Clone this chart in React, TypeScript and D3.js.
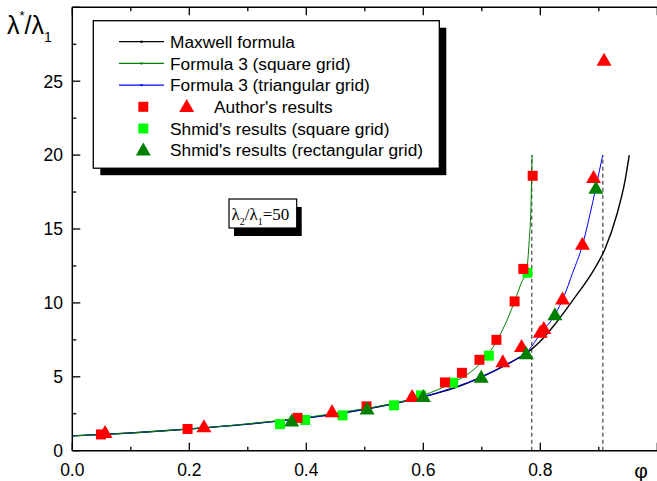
import React from "react";
import * as d3 from "d3";

// curves: [phi, lambda*/lambda1]
const maxwellCurve: [number, number][] = [
  [0, 1.0], [0.1, 1.2], [0.2, 1.47], [0.3, 1.8], [0.4, 2.22], [0.5, 2.8],
  [0.6, 3.65], [0.65, 4.2], [0.7, 5.0], [0.75, 6.0], [0.78, 6.7], [0.8, 7.4],
  [0.822, 8.4], [0.856, 10.2], [0.891, 12.2], [0.91, 13.6], [0.931, 16.0],
  [0.945, 18.3], [0.952, 20],
];
const squareCurve: [number, number][] = [
  [0, 1.0], [0.1, 1.2], [0.2, 1.47], [0.3, 1.82], [0.4, 2.25], [0.5, 2.85],
  [0.55, 3.2], [0.6, 3.75], [0.65, 4.6], [0.68, 5.3], [0.7, 6.0], [0.725, 7.4],
  [0.745, 9.0], [0.756, 10.1], [0.767, 11.3], [0.777, 12.3], [0.781, 14.2],
  [0.784, 16.5], [0.786, 20],
];
const triangCurve: [number, number][] = [
  [0, 1.0], [0.1, 1.2], [0.2, 1.47], [0.3, 1.8], [0.4, 2.2], [0.5, 2.8],
  [0.6, 3.65], [0.65, 4.25], [0.7, 5.0], [0.75, 6.0], [0.78, 6.8], [0.8, 7.9],
  [0.825, 9.2], [0.84, 10.4], [0.855, 12.0], [0.872, 13.9], [0.885, 16.0],
  [0.895, 17.8], [0.9066, 20],
];

// measured points
const authorSquares: [number, number][] = [
  [0.049, 1.1], [0.197, 1.47], [0.385, 2.22], [0.503, 3.0], [0.637, 4.62],
  [0.666, 5.27], [0.696, 6.15], [0.725, 7.5], [0.756, 10.1], [0.771, 12.3],
  [0.787, 18.6],
];
const authorTriangles: [number, number][] = [
  [0.056, 1.22], [0.225, 1.6], [0.444, 2.62], [0.581, 3.65], [0.736, 6.0],
  [0.768, 7.03], [0.8, 8.0], [0.806, 8.25], [0.838, 10.24], [0.872, 13.95],
  [0.891, 18.46], [0.909, 26.4],
];
const shmidSquares: [number, number][] = [
  [0.355, 1.8], [0.398, 2.08], [0.462, 2.39], [0.55, 3.07], [0.596, 3.74],
  [0.651, 4.6], [0.712, 6.43], [0.778, 12.04],
];
const shmidTriangles: [number, number][] = [
  [0.375, 2.0], [0.504, 2.8], [0.6, 3.65], [0.699, 4.96], [0.776, 6.55],
  [0.825, 9.18], [0.895, 17.74],
];

const packingLimits = [0.7854, 0.9069];
const xTicks = [0, 0.2, 0.4, 0.6, 0.8, 1.0];
const yTicks = [0, 5, 10, 15, 20, 25, 30];

const legendRows = [
  { label: "Maxwell formula", kind: "line", color: "#000" },
  { label: "Formula 3 (square grid)", kind: "line", color: "#008000" },
  { label: "Formula 3 (triangular grid)", kind: "line", color: "#0000ff" },
  { label: "Author's results", kind: "author", color: "#ff0000" },
  { label: "Shmid's results (square grid)", kind: "square", color: "#00ff00" },
  { label: "Shmid's results (rectangular grid)", kind: "triangle", color: "#008000" },
];

const SANS = "'Liberation Sans', Arial, sans-serif";
const SERIF = "'Liberation Serif', 'Times New Roman', serif";

const tri = (cx: number, cy: number, s: number) =>
  `M${cx},${cy - s * 0.62}L${cx + s * 0.6},${cy + s * 0.42}L${cx - s * 0.6},${cy + s * 0.42}Z`;

export default function App() {
  const W = 657;
  const H = 481;
  const x = d3.scaleLinear().domain([0, 1]).range([72.3, 657.3]);
  const y = d3.scaleLinear().domain([0, 30]).range([450.7, 7.3]);

  const line = d3
    .line<[number, number]>()
    .x((d) => x(d[0]))
    .y((d) => y(d[1]))
    .curve(d3.curveMonotoneX);

  const xMinor = d3.range(0.1, 1.0, 0.2);
  const yMinor = d3.range(2.5, 30, 5);
  const sq = 10;

  const legX = 93.3, legY = 20.7, legW = 346, legH = 147.5;
  const rowY = (i: number) => 41.7 + i * 21.7;

  return (
    <svg width={W} height={H} style={{ display: "block", position: "absolute", left: 0, top: 0, background: "#fff" }}>
      {/* dashed packing limits */}
      {packingLimits.map((p) => (
        <line key={p} x1={x(p)} x2={x(p)} y1={y(0)} y2={y(20)} stroke="#444" strokeWidth={1.2} strokeDasharray="4,3" />
      ))}

      {/* curves */}
      <path d={line(maxwellCurve) || ""} fill="none" stroke="#000" strokeWidth={1.4} />
      <path d={line(triangCurve) || ""} fill="none" stroke="#0000ff" strokeWidth={1} />
      <path d={line(squareCurve) || ""} fill="none" stroke="#008000" strokeWidth={1} />

      {/* markers */}
      {shmidSquares.map((d, i) => (
        <rect key={"gs" + i} x={x(d[0]) - sq / 2} y={y(d[1]) - sq / 2} width={sq} height={sq} fill="#00ff00" />
      ))}
      {authorSquares.map((d, i) => (
        <rect key={"rs" + i} x={x(d[0]) - sq / 2} y={y(d[1]) - sq / 2} width={sq} height={sq} fill="#ff0000" />
      ))}
      {authorTriangles.map((d, i) => (
        <path key={"rt" + i} d={tri(x(d[0]), y(d[1]), 12.5)} fill="#ff0000" />
      ))}
      {shmidTriangles.map((d, i) => (
        <path key={"gt" + i} d={tri(x(d[0]), y(d[1]), 12.5)} fill="#008000" />
      ))}

      {/* frame */}
      <line x1={x(0)} x2={x(0)} y1={y(0)} y2={y(30)} stroke="#000" strokeWidth={1.5} />
      <line x1={x(0)} x2={W} y1={y(0)} y2={y(0)} stroke="#000" strokeWidth={1.5} />
      <line x1={x(0)} x2={W} y1={y(30)} y2={y(30)} stroke="#000" strokeWidth={1.5} />

      {/* x ticks */}
      {xTicks.map((t) => (
        <g key={"xt" + t}>
          <line x1={x(t)} x2={x(t)} y1={y(0)} y2={y(0) - 8} stroke="#000" strokeWidth={1.3} />
          <line x1={x(t)} x2={x(t)} y1={y(30)} y2={y(30) + 8} stroke="#000" strokeWidth={1.3} />
          {x(t) < 620 && (
            <text x={x(t)} y={476} textAnchor="middle" fontFamily={SANS} fontSize={17.5}>
              {d3.format(".1f")(t)}
            </text>
          )}
        </g>
      ))}
      {xMinor.map((t) => (
        <g key={"xm" + t}>
          <line x1={x(t)} x2={x(t)} y1={y(0)} y2={y(0) - 4} stroke="#000" strokeWidth={1.3} />
          <line x1={x(t)} x2={x(t)} y1={y(30)} y2={y(30) + 4} stroke="#000" strokeWidth={1.3} />
        </g>
      ))}
      {/* y ticks */}
      {yTicks.map((t) => (
        <g key={"yt" + t}>
          <line x1={x(0)} x2={x(0) + 8} y1={y(t)} y2={y(t)} stroke="#000" strokeWidth={1.3} />
          {t < 30 && (
            <text x={63} y={y(t) + 6.3} textAnchor="end" fontFamily={SANS} fontSize={17.5}>
              {t}
            </text>
          )}
        </g>
      ))}
      {yMinor.map((t) => (
        <line key={"ym" + t} x1={x(0)} x2={x(0) + 4} y1={y(t)} y2={y(t)} stroke="#000" strokeWidth={1.3} />
      ))}

      {/* axis titles */}
      <text x={641} y={478} textAnchor="middle" fontFamily={SANS} fontSize={21}>φ</text>
      <text x={7} y={34} fontFamily={SANS} fontSize={25}>
        λ<tspan fontSize={13} dy={-14}>*</tspan>
        <tspan dy={14}>/λ</tspan>
        <tspan fontSize={14} dy={8}>1</tspan>
      </text>

      {/* legend */}
      <rect x={legX + 7} y={legY + 7} width={legW} height={legH} fill="#000" />
      <rect x={legX} y={legY} width={legW} height={legH} fill="#fff" stroke="#000" strokeWidth={1.3} />
      {legendRows.map((r, i) => {
        const cy = rowY(i);
        return (
          <g key={r.label}>
            {r.kind === "line" && (
              <g>
                <line x1={119} x2={164} y1={cy} y2={cy} stroke={r.color} strokeWidth={1.2} />
                <circle cx={141.5} cy={cy} r={1.2} fill={r.color} />
              </g>
            )}
            {r.kind === "author" && (
              <g>
                <rect x={143.3 - sq / 2} y={cy - sq / 2} width={sq} height={sq} fill="#ff0000" />
                <path d={tri(186.7, cy, 12.5)} fill="#ff0000" />
              </g>
            )}
            {r.kind === "square" && (
              <rect x={143.3 - sq / 2} y={cy - sq / 2} width={sq} height={sq} fill={r.color} />
            )}
            {r.kind === "triangle" && <path d={tri(143.3, cy, 12.5)} fill={r.color} />}
            <text x={r.kind === "author" ? 214 : 170} y={cy + 6.2} fontFamily={SANS} fontSize={17.3}>
              {r.label}
            </text>
          </g>
        );
      })}

      {/* annotation */}
      <rect x={229 + 5} y={199 + 8} width={67.7} height={29} fill="#000" />
      <rect x={229} y={199} width={67.7} height={29} fill="#fff" stroke="#000" strokeWidth={1.2} />
      <text x={231.5} y={220} fontFamily={SERIF} fontSize={17}>
        λ<tspan fontSize={10} dy={5}>2</tspan>
        <tspan dy={-5}>/λ</tspan>
        <tspan fontSize={10} dy={5}>1</tspan>
        <tspan dy={-5}>=50</tspan>
      </text>
    </svg>
  );
}
